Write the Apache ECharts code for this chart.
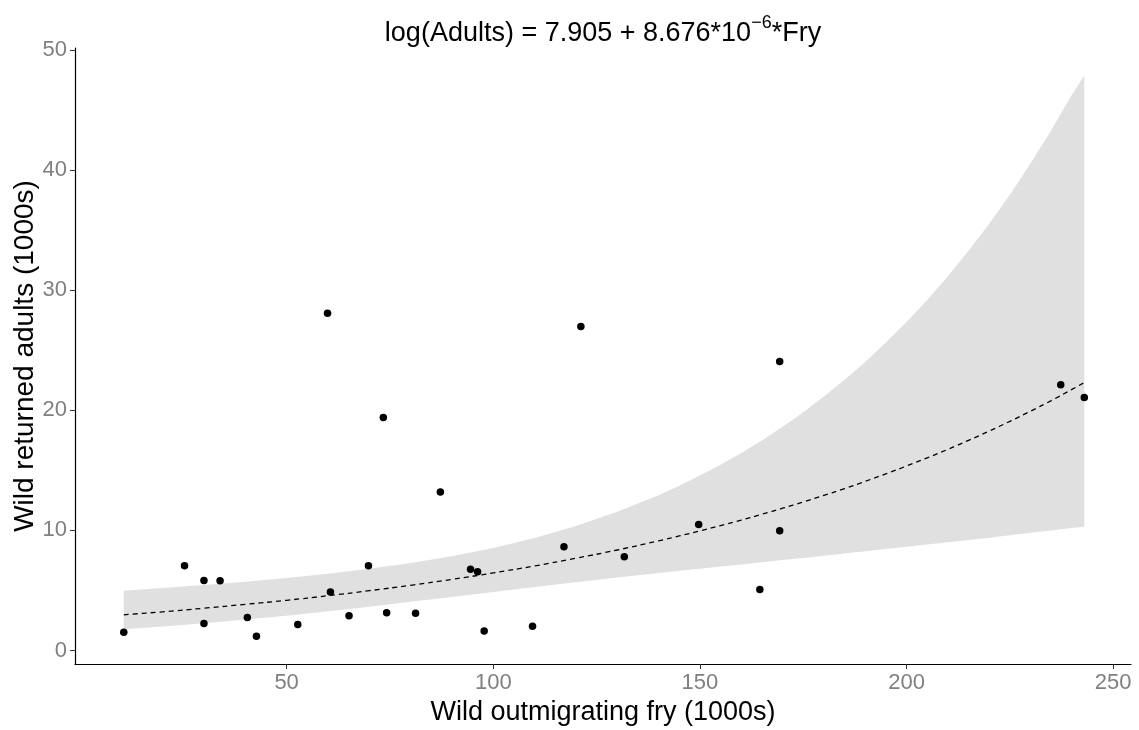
<!DOCTYPE html>
<html>
<head>
<meta charset="utf-8">
<script src="https://cdn.jsdelivr.net/npm/echarts@6/dist/echarts.min.js"></script>
<style>html,body{margin:0;padding:0;background:#fff;}#c{width:1139px;height:730px;}</style>
</head>
<body>
<div id="c"></div>
<script>
// Observed points: wild outmigrating fry (1000s) vs wild returned adults (1000s)
var fry = [10.6, 25.3, 30.0, 33.9, 30.0, 40.5, 42.7, 52.7, 59.9, 60.6, 65.1, 69.8, 73.4, 74.2, 81.2, 87.2, 94.5, 96.2, 97.8, 109.5, 117.1, 121.2, 131.7, 149.7, 164.5, 169.3, 169.3, 237.3, 243.0];
var adults = [1.52, 7.05, 5.82, 5.80, 2.25, 2.75, 1.19, 2.16, 28.1, 4.88, 2.89, 7.05, 19.4, 3.14, 3.10, 13.2, 6.77, 6.55, 1.61, 2.02, 8.65, 27.0, 7.80, 10.5, 5.07, 24.07, 9.98, 22.13, 21.07];

// Fitted curve and confidence band
var curveX = [10.6, 20, 30, 40, 50, 60, 70, 80, 90, 100, 110, 120, 130, 140, 145, 150, 155, 160, 165, 170, 175, 180, 185, 190, 195, 200, 205, 210, 215, 220, 225, 230, 235, 240, 243.0];
var curveFit = [2.97, 3.22, 3.52, 3.84, 4.18, 4.56, 4.98, 5.43, 5.92, 6.46, 7.04, 7.68, 8.37, 9.13, 9.54, 9.96, 10.40, 10.86, 11.35, 11.85, 12.37, 12.92, 13.49, 14.09, 14.72, 15.37, 16.05, 16.76, 17.51, 18.28, 19.09, 19.94, 20.82, 21.75, 22.32];
var bandUpper = [4.98, 5.20, 5.45, 5.73, 6.04, 6.39, 6.80, 7.28, 7.85, 8.54, 9.37, 10.37, 11.55, 12.94, 13.72, 14.57, 15.48, 16.45, 17.50, 18.64, 19.85, 21.15, 22.55, 24.04, 25.65, 27.37, 29.21, 31.18, 33.30, 35.56, 37.98, 40.58, 43.35, 46.3, 47.9];
var bandLower = [1.77, 2.00, 2.27, 2.57, 2.90, 3.26, 3.64, 4.05, 4.46, 4.88, 5.29, 5.69, 6.07, 6.45, 6.63, 6.81, 6.99, 7.17, 7.35, 7.53, 7.71, 7.90, 8.08, 8.26, 8.45, 8.63, 8.82, 9.01, 9.20, 9.40, 9.60, 9.80, 10.00, 10.21, 10.30];

var xTicks = [50, 100, 150, 200, 250];
var yTicks = [0, 10, 20, 30, 40, 50];

var FONT = 'Liberation Sans, Arial, sans-serif';
var chart = echarts.init(document.getElementById('c'));

var scatterData = fry.map(function (f, i) { return [f, adults[i]]; });
var lineData = curveX.map(function (x, i) { return [x, curveFit[i]]; });

chart.setOption({
  backgroundColor: '#ffffff',
  animation: false,
  title: {
    text: '{t|log(Adults) = 7.905 + 8.676*10}{s|−6}{t|*Fry}',
    left: 598, top: 9, textAlign: 'center',
    textStyle: {
      fontWeight: 'normal',
      rich: {
        t: { fontFamily: FONT, fontSize: 27, fontWeight: 'normal', color: '#000', verticalAlign: 'bottom', lineHeight: 33 },
        s: { fontFamily: FONT, fontSize: 18, fontWeight: 'normal', color: '#000', verticalAlign: 'top', lineHeight: 33, padding: [0, 0, 14, 0] }
      }
    }
  },
  grid: { left: 75, right: 8, top: 48, bottom: 66, containLabel: false, outerBoundsMode: 'none' },
  xAxis: {
    type: 'value', min: -1.2, max: 254.3,
    name: 'Wild outmigrating fry (1000s)', nameLocation: 'middle', nameGap: 35,
    nameTextStyle: { fontFamily: FONT, fontSize: 27, color: '#000' },
    axisLine: { show: true, onZero: false, lineStyle: { color: '#000', width: 1.2 } },
    axisTick: { show: true, length: 5, customValues: xTicks, lineStyle: { color: '#333', width: 1 } },
    axisLabel: { customValues: xTicks, margin: 8, fontFamily: FONT, fontSize: 22, color: '#808080' },
    splitLine: { show: false }
  },
  yAxis: {
    type: 'value', min: -1.13, max: 50.2,
    name: 'Wild returned adults (1000s)', nameLocation: 'middle', nameGap: 36, nameRotate: 90,
    nameMoveOverlap: false,
    nameTextStyle: { fontFamily: FONT, fontSize: 28, color: '#000' },
    axisLine: { show: true, onZero: false, lineStyle: { color: '#000', width: 1.2 } },
    axisTick: { show: true, length: 5, customValues: yTicks, lineStyle: { color: '#333', width: 1 } },
    axisLabel: { customValues: yTicks, margin: 8, fontFamily: FONT, fontSize: 22, color: '#808080' },
    splitLine: { show: false }
  },
  series: [
    {
      type: 'custom', z: 1, silent: true,
      data: [[curveX[0], bandLower[0]]],
      renderItem: function (params, api) {
        var pts = [];
        for (var i = 0; i < curveX.length; i++) pts.push(api.coord([curveX[i], bandUpper[i]]));
        for (var j = curveX.length - 1; j >= 0; j--) pts.push(api.coord([curveX[j], bandLower[j]]));
        return { type: 'polygon', shape: { points: pts }, style: { fill: '#e0e0e0', stroke: null } };
      }
    },
    {
      type: 'line', z: 2, data: lineData, smooth: true, showSymbol: false, silent: true,
      lineStyle: { color: '#000', width: 1.3, type: [5, 4] }
    },
    {
      type: 'scatter', z: 3, data: scatterData, symbol: 'circle', symbolSize: 7.5,
      itemStyle: { color: '#000', opacity: 1 }
    }
  ]
});
</script>
</body>
</html>
